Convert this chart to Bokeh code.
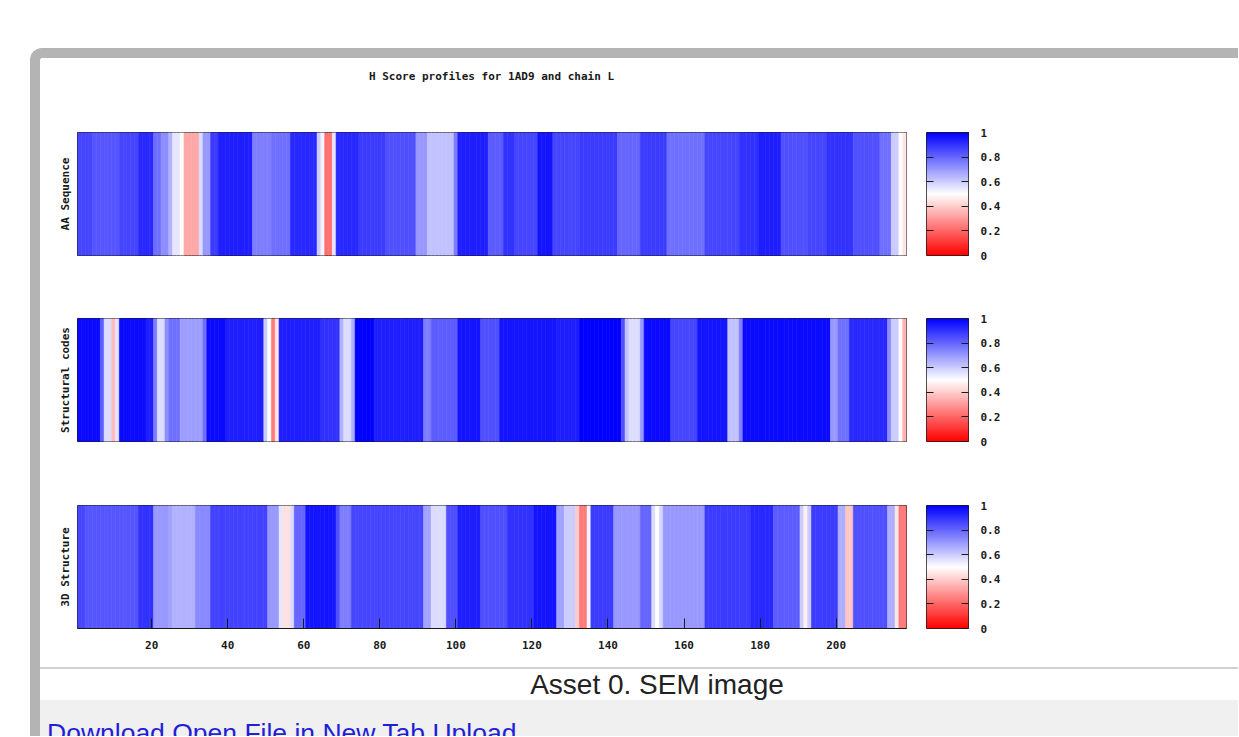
import numpy as np
from bokeh.plotting import figure
from bokeh.models import (ColumnDataSource, Range1d, LinearColorMapper, FixedTicker,
                          LinearAxis, Div, Spacer)
from bokeh.layouts import column, row
from bokeh.transform import linear_cmap
from bokeh.embed import file_html
from bokeh.resources import INLINE

# ---------------- data ----------------
TITLE = "H Score profiles for 1AD9 and chain L"
TRACK_LABELS = ["AA Sequence", "Structural codes", "3D Structure"]
X_TICKS = [20, 40, 60, 80, 100, 120, 140, 160, 180, 200]
CB_TICKS = [0, 0.2, 0.4, 0.6, 0.8, 1]
CB_LABELS = ["0", "0.2", "0.4", "0.6", "0.8", "1"]
CAPTION = "Asset 0. SEM image"
LINKS = "Download Open File in New Tab Upload"

aa_sequence = [
    0.86, 0.86, 0.86, 0.86, 0.83, 0.83, 0.83, 0.83, 0.83, 0.83,
    0.83, 0.86, 0.86, 0.86, 0.86, 0.86, 0.92, 0.92, 0.92, 0.92,
    0.78, 0.78, 0.72, 0.72, 0.65, 0.55, 0.55, 0.50, 0.33, 0.33,
    0.33, 0.33, 0.57, 0.70, 0.70, 0.88, 0.88, 0.94, 0.94, 0.94,
    0.94, 0.94, 0.94, 0.94, 0.94, 0.94, 0.75, 0.75, 0.75, 0.75,
    0.75, 0.78, 0.78, 0.78, 0.78, 0.78, 0.92, 0.92, 0.92, 0.92,
    0.92, 0.92, 0.92, 0.60, 0.52, 0.22, 0.22, 0.55, 0.92, 0.92,
    0.92, 0.92, 0.92, 0.92, 0.88, 0.88, 0.88, 0.88, 0.88, 0.88,
    0.88, 0.84, 0.84, 0.84, 0.84, 0.84, 0.84, 0.84, 0.84, 0.70,
    0.70, 0.70, 0.62, 0.62, 0.62, 0.62, 0.62, 0.62, 0.62, 0.75,
    0.94, 0.94, 0.94, 0.94, 0.94, 0.94, 0.94, 0.94, 0.82, 0.82,
    0.82, 0.82, 0.90, 0.90, 0.90, 0.86, 0.86, 0.86, 0.86, 0.86,
    0.86, 0.96, 0.96, 0.96, 0.96, 0.86, 0.86, 0.86, 0.86, 0.86,
    0.86, 0.86, 0.88, 0.88, 0.88, 0.88, 0.88, 0.88, 0.88, 0.88,
    0.88, 0.88, 0.80, 0.80, 0.80, 0.80, 0.80, 0.80, 0.88, 0.88,
    0.88, 0.88, 0.88, 0.88, 0.88, 0.78, 0.78, 0.78, 0.78, 0.78,
    0.78, 0.78, 0.78, 0.78, 0.78, 0.86, 0.86, 0.86, 0.86, 0.86,
    0.86, 0.86, 0.86, 0.86, 0.90, 0.90, 0.90, 0.90, 0.90, 0.94,
    0.94, 0.94, 0.94, 0.94, 0.94, 0.84, 0.84, 0.84, 0.84, 0.84,
    0.84, 0.84, 0.86, 0.86, 0.86, 0.86, 0.86, 0.90, 0.90, 0.90,
    0.90, 0.90, 0.90, 0.90, 0.84, 0.84, 0.84, 0.84, 0.84, 0.84,
    0.84, 0.78, 0.78, 0.78, 0.60, 0.60, 0.50, 0.45,
]

structural_codes = [
    0.98, 0.98, 0.98, 0.98, 0.98, 0.98, 0.82, 0.57, 0.57, 0.37,
    0.55, 0.98, 0.98, 0.98, 0.98, 0.98, 0.98, 0.98, 0.94, 0.94,
    0.75, 0.57, 0.57, 0.72, 0.78, 0.78, 0.78, 0.69, 0.69, 0.69,
    0.69, 0.69, 0.69, 0.78, 0.98, 0.98, 0.98, 0.98, 0.98, 0.94,
    0.94, 0.94, 0.94, 0.94, 0.94, 0.94, 0.94, 0.94, 0.94, 0.60,
    0.50, 0.24, 0.45, 0.94, 0.94, 0.94, 0.94, 0.94, 0.94, 0.94,
    0.94, 0.94, 0.94, 0.94, 0.90, 0.90, 0.90, 0.90, 0.90, 0.65,
    0.57, 0.57, 0.66, 1.00, 1.00, 1.00, 1.00, 1.00, 0.94, 0.94,
    0.94, 0.94, 0.94, 0.94, 0.94, 0.94, 0.94, 0.94, 0.94, 0.94,
    0.94, 0.75, 0.75, 0.82, 0.82, 0.82, 0.82, 0.82, 0.82, 0.82,
    0.96, 0.96, 0.96, 0.96, 0.96, 0.96, 0.84, 0.84, 0.84, 0.84,
    0.84, 0.96, 0.96, 0.96, 0.96, 0.96, 0.96, 0.96, 0.96, 0.96,
    0.96, 0.96, 0.96, 0.96, 0.96, 0.96, 0.94, 0.94, 0.94, 0.94,
    0.94, 0.94, 1.00, 1.00, 1.00, 1.00, 1.00, 1.00, 1.00, 1.00,
    1.00, 1.00, 1.00, 0.84, 0.62, 0.57, 0.57, 0.57, 0.70, 0.98,
    0.98, 0.98, 0.98, 0.98, 0.98, 0.98, 0.86, 0.86, 0.86, 0.86,
    0.86, 0.86, 0.86, 0.96, 0.96, 0.96, 0.96, 0.96, 0.96, 0.96,
    0.96, 0.62, 0.62, 0.62, 0.75, 0.98, 0.98, 0.98, 0.98, 0.98,
    0.98, 0.98, 0.98, 0.98, 0.98, 0.98, 0.98, 0.98, 0.98, 0.98,
    0.98, 0.98, 0.98, 0.98, 0.98, 0.98, 0.98, 0.98, 0.70, 0.70,
    0.78, 0.78, 0.78, 0.92, 0.92, 0.92, 0.92, 0.92, 0.92, 0.92,
    0.92, 0.92, 0.92, 0.72, 0.60, 0.60, 0.50, 0.35,
]

structure_3d = [
    0.86, 0.86, 0.83, 0.83, 0.83, 0.83, 0.83, 0.83, 0.83, 0.83,
    0.83, 0.83, 0.83, 0.83, 0.83, 0.83, 0.90, 0.90, 0.90, 0.90,
    0.70, 0.70, 0.70, 0.70, 0.68, 0.65, 0.65, 0.65, 0.65, 0.65,
    0.65, 0.73, 0.73, 0.73, 0.73, 0.87, 0.87, 0.87, 0.87, 0.87,
    0.87, 0.87, 0.87, 0.87, 0.87, 0.87, 0.87, 0.87, 0.87, 0.87,
    0.70, 0.70, 0.70, 0.55, 0.44, 0.44, 0.57, 0.80, 0.80, 0.80,
    0.96, 0.96, 0.96, 0.96, 0.96, 0.96, 0.96, 0.96, 0.84, 0.75,
    0.75, 0.75, 0.86, 0.86, 0.86, 0.86, 0.86, 0.86, 0.86, 0.86,
    0.86, 0.86, 0.86, 0.86, 0.86, 0.86, 0.86, 0.86, 0.86, 0.86,
    0.86, 0.68, 0.68, 0.57, 0.57, 0.57, 0.57, 0.84, 0.84, 0.84,
    0.94, 0.94, 0.94, 0.94, 0.94, 0.94, 0.84, 0.84, 0.84, 0.84,
    0.84, 0.84, 0.84, 0.90, 0.90, 0.90, 0.90, 0.90, 0.90, 0.90,
    0.96, 0.96, 0.96, 0.96, 0.96, 0.96, 0.68, 0.68, 0.60, 0.60,
    0.60, 0.40, 0.24, 0.24, 0.52, 0.88, 0.88, 0.88, 0.88, 0.88,
    0.88, 0.70, 0.70, 0.70, 0.70, 0.70, 0.70, 0.70, 0.80, 0.80,
    0.80, 0.57, 0.50, 0.58, 0.70, 0.70, 0.70, 0.70, 0.70, 0.70,
    0.70, 0.70, 0.70, 0.70, 0.70, 0.88, 0.88, 0.88, 0.88, 0.88,
    0.88, 0.88, 0.88, 0.88, 0.88, 0.88, 0.88, 0.92, 0.92, 0.92,
    0.92, 0.92, 0.92, 0.82, 0.82, 0.82, 0.82, 0.82, 0.82, 0.82,
    0.60, 0.47, 0.60, 0.88, 0.88, 0.88, 0.88, 0.88, 0.88, 0.88,
    0.66, 0.66, 0.39, 0.39, 0.84, 0.84, 0.84, 0.84, 0.84, 0.84,
    0.84, 0.84, 0.84, 0.66, 0.66, 0.45, 0.24, 0.24,
]

TRACKS = [aa_sequence, structural_codes, structure_3d]

# ---------------- styling ----------------
FONT = "DejaVu Sans Mono"
FSIZE = "11px"
INK = "#1a1a1a"
FRAME_GRAY = "#b4b4b4"
CONTENT_W = 1198


def rwb_palette(n=256):
    cols = []
    for k in range(n):
        t = k / (n - 1)
        if t < 0.5:
            s = t / 0.5
            r, g, b = 255, round(255 * s), round(255 * s)
        else:
            s = (t - 0.5) / 0.5
            r, g, b = round(255 * (1 - s)), round(255 * (1 - s)), 255
        cols.append("#%02x%02x%02x" % (r, g, b))
    return cols


PALETTE = rwb_palette()
mapper = LinearColorMapper(palette=PALETTE, low=0, high=1)


def strip_fig(values, label, first, last):
    n = len(values)
    src = ColumnDataSource(dict(res=list(range(1, n + 1)), h=values))
    p = figure(frame_width=829, frame_height=123,
               x_range=Range1d(0.5, n + 0.5), y_range=Range1d(0, 1),
               toolbar_location=None, output_backend="svg",
               min_border_left=37, min_border_right=10,
               min_border_top=34 if first else 32,
               min_border_bottom=39 if last else (31 if first else 32),
               x_axis_location="below" if last else None,
               background_fill_color="white", border_fill_color="white",
               outline_line_color=INK, outline_line_width=1)
    cmap = linear_cmap("h", PALETTE, 0, 1)
    p.rect(x="res", y=0.5, width=1, height=1, source=src,
           fill_color=cmap, line_color=cmap, line_width=0.6)
    p.grid.visible = False
    ya = p.yaxis[0]
    ya.ticker = FixedTicker(ticks=[])
    ya.major_tick_in = 0
    ya.major_tick_out = 0
    ya.minor_tick_in = 0
    ya.minor_tick_out = 0
    ya.axis_line_color = None
    ya.major_label_text_font_size = "0px"
    ya.major_label_text_color = None
    ya.major_label_standoff = 0
    ya.axis_label = label
    ya.axis_label_standoff = 6
    ya.axis_label_text_font = FONT
    ya.axis_label_text_font_size = FSIZE
    ya.axis_label_text_font_style = "bold"
    ya.axis_label_text_color = INK
    if last:
        xa = p.xaxis[0]
        xa.ticker = FixedTicker(ticks=X_TICKS)
        xa.major_tick_in = 10
        xa.major_tick_out = 0
        xa.minor_tick_in = 0
        xa.minor_tick_out = 0
        xa.major_tick_line_color = INK
        xa.axis_line_color = INK
        xa.major_label_standoff = 12
        xa.major_label_text_font = FONT
        xa.major_label_text_font_size = FSIZE
        xa.major_label_text_font_style = "bold"
        xa.major_label_text_color = INK
    return p


def cbar_fig(first, last):
    c = figure(frame_width=42, frame_height=123,
               x_range=Range1d(0, 1), y_range=Range1d(0, 1),
               toolbar_location=None, output_backend="svg",
               min_border_left=10, min_border_right=CONTENT_W - 928,
               min_border_top=34 if first else 32,
               min_border_bottom=39 if last else (31 if first else 32),
               x_axis_location=None, y_axis_location="right",
               background_fill_color="white", border_fill_color="white",
               outline_line_color=INK, outline_line_width=1)
    grad = np.linspace(0, 1, 256).reshape(256, 1)
    c.image(image=[grad], x=0, y=0, dw=1, dh=1, color_mapper=mapper)
    c.grid.visible = False
    ra = c.yaxis[0]
    ra.ticker = FixedTicker(ticks=CB_TICKS)
    ra.major_label_overrides = {t: s for t, s in zip(CB_TICKS, CB_LABELS)}
    ra.major_tick_in = 7
    ra.major_tick_out = 0
    ra.minor_tick_in = 0
    ra.minor_tick_out = 0
    ra.major_tick_line_color = INK
    ra.axis_line_color = None
    ra.major_label_standoff = 12
    ra.major_label_text_font = FONT
    ra.major_label_text_font_size = FSIZE
    ra.major_label_text_font_style = "bold"
    ra.major_label_text_color = INK
    la = LinearAxis(ticker=FixedTicker(ticks=CB_TICKS[1:-1]),
                    major_tick_in=7, major_tick_out=0,
                    minor_tick_in=0, minor_tick_out=0,
                    major_tick_line_color=INK, axis_line_color=None,
                    major_label_text_font_size="0px",
                    major_label_text_color=None, major_label_standoff=0)
    c.add_layout(la, "left")
    return c


title_div = Div(width=CONTENT_W, height=40, margin=0,
                text=('<div style="width:829px;margin-left:37px;text-align:center;'
                      "font-family:'%s',monospace;font-size:%s;font-weight:bold;"
                      'line-height:38px;color:%s;white-space:nowrap;">%s</div>'
                      % (FONT, FSIZE, INK, TITLE)))

rows = []
for i, (vals, lab) in enumerate(zip(TRACKS, TRACK_LABELS)):
    first = i == 0
    last = i == len(TRACKS) - 1
    rows.append(row(strip_fig(vals, lab, first, last), cbar_fig(first, last)))

sep = Div(width=CONTENT_W, height=2, margin=0, styles={"background-color": "#d2d2d2"})
caption = Div(width=CONTENT_W, height=31, margin=0,
              text=('<div style="width:%dpx;margin-left:36px;text-align:center;'
                    "font-family:'Liberation Sans',Arial,sans-serif;font-size:28px;"
                    'line-height:31px;color:#222;white-space:nowrap;">%s</div>'
                    % (CONTENT_W - 36, CAPTION)))
links = Div(width=CONTENT_W, height=36, margin=0,
            styles={"background-color": "#f0f0f0", "overflow": "hidden"},
            text=('<div style="padding:20px 0 0 7px;'
                  "font-family:'Liberation Sans',Arial,sans-serif;font-size:26.5px;"
                  'line-height:26px;color:#1f1fd8;white-space:nowrap;">%s</div>' % LINKS))

frame = column(title_div, *rows, sep, caption, links, spacing=0, margin=(0, 0, 0, 30),
               styles={"border-top": "10px solid %s" % FRAME_GRAY,
                       "border-left": "10px solid %s" % FRAME_GRAY,
                       "border-top-left-radius": "12px"})
page = column(Spacer(width=30 + 10 + CONTENT_W, height=48, margin=0), frame, spacing=0)

open("out.html", "w").write(file_html(page, INLINE))
